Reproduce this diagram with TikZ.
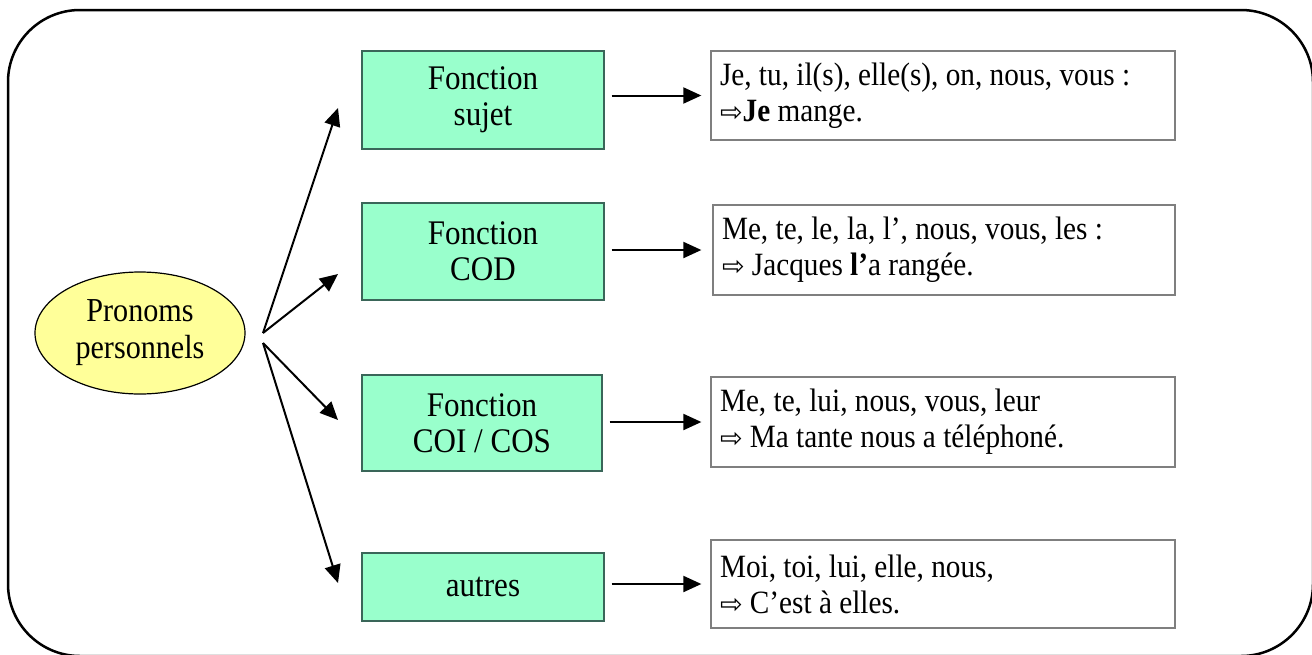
\documentclass[tikz,border=0pt]{standalone}
\usepackage{fontspec}
\setmainfont[FakeStretch=0.9]{Liberation Serif}
\newfontfamily\symfont{DejaVu Sans}
\usetikzlibrary{shapes.geometric,arrows.meta}
\definecolor{greenfill}{HTML}{99FFCC}
\definecolor{greenline}{HTML}{3A6659}
\definecolor{yellowfill}{HTML}{FFFF99}
\definecolor{boxline}{HTML}{7F7F7F}
\newcommand{\rarr}{{\symfont\fontsize{27}{27}\selectfont ⇨}}
\begin{document}
\begin{tikzpicture}[x=1pt,y=-1pt,
  gbox/.style={draw=greenline, line width=1.2pt, fill=greenfill, align=center,
    font=\fontsize{34.5}{36}\selectfont, inner sep=0pt},
  wbox/.style={draw=boxline, line width=1.3pt, fill=white, align=flush left,
    font=\fontsize{32.5}{36}\selectfont, inner xsep=9pt, inner ysep=0pt,
    minimum width=464pt, text width=446pt},
  pellipse/.style={ellipse, draw=black, line width=1.2pt, fill=yellowfill,
    align=center, font=\fontsize{33.5}{37}\selectfont, inner sep=0pt,
    minimum width=210pt, minimum height=122pt},
  arr/.style={line width=2pt, -{Triangle[length=18pt,width=16pt]}}]
\useasboundingbox (0,0) rectangle (1312,654);
\clip (0,0) rectangle (1312,654);
\draw[line width=2.5pt, rounded corners=72pt] (8,10) rectangle (1313,656);

\node[pellipse] (pp) at (140,333) {Pronoms\\personnels};

\node[gbox, minimum width=242pt, minimum height=98pt] (g1) at (483,100) {Fonction\\sujet};
\node[gbox, minimum width=242pt, minimum height=97pt] (g2) at (483,251.5) {Fonction\\COD};
\node[gbox, minimum width=240pt, minimum height=96pt] (g3) at (482,423) {Fonction\\COI / COS};
\node[gbox, minimum width=242pt, minimum height=68pt] (g4) at (483,587) {autres};

\node[wbox, minimum height=89pt] (w1) at (943,95.5) {Je, tu, il(s), elle(s), on, nous, vous :\\\rarr\textbf{Je} mange.};
\node[wbox, minimum height=90pt, minimum width=462pt, text width=444pt] (w2) at (944,250) {Me, te, le, la, l’, nous, vous, les :\\\rarr{} Jacques \textbf{l’}a rangée.};
\node[wbox, minimum height=90pt] (w3) at (943,422) {Me, te, lui, nous, vous, leur\\\rarr{} Ma tante nous a téléphoné.};
\node[wbox, minimum height=88pt] (w4) at (943,584) {Moi, toi, lui, elle, nous,\\\rarr{} C’est à elles.};

\coordinate (o1) at (263,333);
\coordinate (o2) at (263,343);
\coordinate (t1) at (338,108);
\coordinate (t2) at (338,274);
\coordinate (t3) at (338,420);
\coordinate (t4) at (338,583);

\draw[arr] (o1) -- (t1);
\draw[arr] (o1) -- (t2);
\draw[arr] (o2) -- (t3);
\draw[arr] (o2) -- (t4);

\draw[arr, shorten <=7pt, shorten >=9pt] (g1.east |- w1.west) -- (w1.west);
\draw[arr, shorten <=7pt, shorten >=11pt] (g2.east |- w2.west) -- (w2.west);
\draw[arr, shorten <=7pt, shorten >=9pt] (g3.east |- w3.west) -- (w3.west);
\draw[arr, shorten <=7pt, shorten >=9pt] (g4.east |- w4.west) -- (w4.west);
\end{tikzpicture}
\end{document}
